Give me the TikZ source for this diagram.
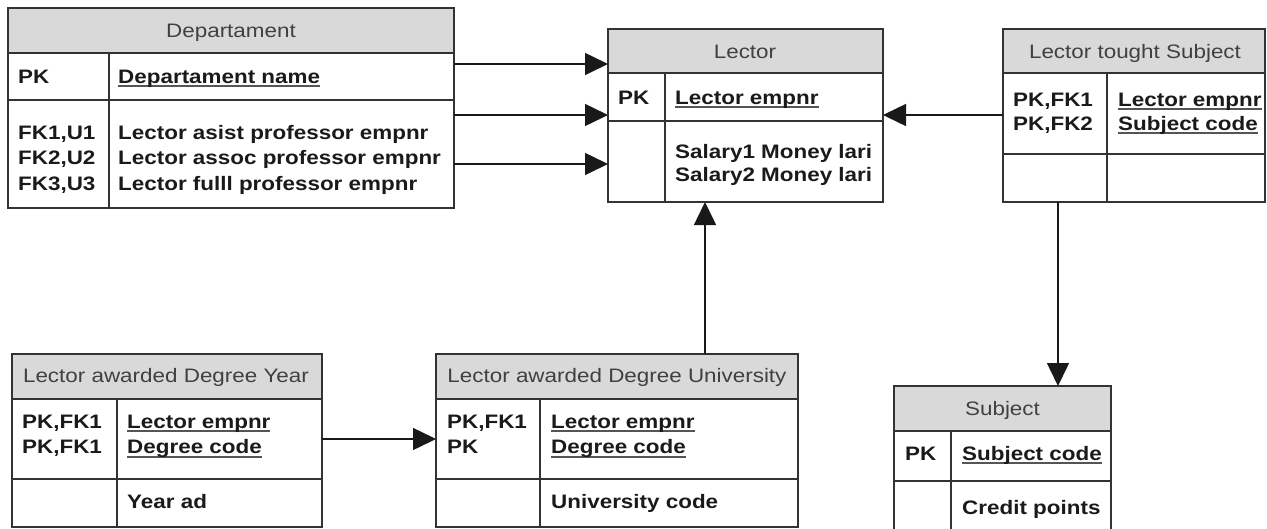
\documentclass[tikz,border=0pt]{standalone}
\usepackage{fontspec}
\setmainfont{Liberation Sans}[FakeStretch=1.15]
\usetikzlibrary{arrows.meta}

\definecolor{hdrfill}{HTML}{D9D9D9}
\definecolor{hdrtext}{HTML}{404040}
\definecolor{bodytext}{HTML}{1A1A1A}
\definecolor{edge}{HTML}{333333}
\definecolor{ulcol}{HTML}{555555}

\newcommand\erfont{\fontsize{19.5}{24}\selectfont}
% underlined primary-key attribute
\newcommand\keyattr[1]{\sbox0{#1}\rlap{\color{ulcol}\rule[-4.2pt]{\wd0}{2pt}}\usebox0}

\tikzset{
  entity/.style={draw=edge, line width=1.4pt, inner sep=0pt, outer sep=0pt, anchor=north west},
  hdr/.style={fill=hdrfill},
  sep/.style={draw=edge, line width=1.4pt},
  title/.style={anchor=base, inner sep=0pt, font=\erfont, text=hdrtext},
  attr/.style={anchor=base west, inner sep=0pt, font=\erfont\bfseries, text=bodytext},
  conn/.style={draw=black!90, line width=1.5pt, -{Triangle[length=23pt,width=22pt]}},
}

\begin{document}
\begin{tikzpicture}[x=1pt, y=-1pt]
\useasboundingbox (0,0) rectangle (1267,528);
\begin{scope}
\clip (0,0) rectangle (1267,528);

% ---------- Departament ----------
\fill[hdr] (8,8) rectangle (454,53);
\node[entity, minimum width=446pt, minimum height=200pt] (dep) at (8,8) {};
\draw[sep] (8,53) -- (454,53) (8,100) -- (454,100) (109,53) -- (109,208);
\node[title] (depT) at (231,37) {Departament};
\node[attr] (depK1) at (18,83) {PK};
\node[attr] (depA1) at (118,83) {\keyattr{Departament name}};
\node[attr] (depK2) at (18,139) {FK1,U1};
\node[attr] (depA2) at (118,139) {Lector asist professor empnr};
\node[attr] (depK3) at (18,164) {FK2,U2};
\node[attr] (depA3) at (118,164) {Lector assoc professor empnr};
\node[attr] (depK4) at (18,190) {FK3,U3};
\node[attr] (depA4) at (118,190) {Lector fulll professor empnr};

% ---------- Lector ----------
\fill[hdr] (608,29) rectangle (883,73);
\node[entity, minimum width=275pt, minimum height=173pt] (lec) at (608,29) {};
\draw[sep] (608,73) -- (883,73) (608,121) -- (883,121) (665,73) -- (665,202);
\node[title] (lecT) at (745,58.5) {Lector};
\node[attr] (lecK1) at (618,104) {PK};
\node[attr] (lecA1) at (675,104) {\keyattr{Lector empnr}};
\node[attr] (lecA2) at (675,158.5) {Salary1 Money lari};
\node[attr] (lecA3) at (675,181.5) {Salary2 Money lari};

% ---------- Lector tought Subject ----------
\fill[hdr] (1003,29) rectangle (1265,73);
\node[entity, minimum width=262pt, minimum height=173pt] (lts) at (1003,29) {};
\draw[sep] (1003,73) -- (1265,73) (1003,154) -- (1265,154) (1107,73) -- (1107,202);
\node[title] (ltsT) at (1135,58.5) {Lector tought Subject};
\node[attr] (ltsK1) at (1013,106) {PK,FK1};
\node[attr] (ltsA1) at (1118,106) {\keyattr{Lector empnr}};
\node[attr] (ltsK2) at (1013,130) {PK,FK2};
\node[attr] (ltsA2) at (1118,130) {\keyattr{Subject code}};

% ---------- Lector awarded Degree Year ----------
\fill[hdr] (12,354) rectangle (322,399);
\node[entity, minimum width=310pt, minimum height=173pt] (ady) at (12,354) {};
\draw[sep] (12,399) -- (322,399) (12,479) -- (322,479) (117,399) -- (117,527);
\node[title] (adyT) at (166,382.5) {Lector awarded Degree Year};
\node[attr] (adyK1) at (22,428) {PK,FK1};
\node[attr] (adyA1) at (127,428) {\keyattr{Lector empnr}};
\node[attr] (adyK2) at (22,453.5) {PK,FK1};
\node[attr] (adyA2) at (127,453.5) {\keyattr{Degree code}};
\node[attr] (adyA3) at (127,508.5) {Year ad};

% ---------- Lector awarded Degree University ----------
\fill[hdr] (436,354) rectangle (798,399);
\node[entity, minimum width=362pt, minimum height=173pt] (adu) at (436,354) {};
\draw[sep] (436,399) -- (798,399) (436,479) -- (798,479) (540,399) -- (540,527);
\node[title] (aduT) at (617,382.5) {Lector awarded Degree University};
\node[attr] (aduK1) at (447,428) {PK,FK1};
\node[attr] (aduA1) at (551,428) {\keyattr{Lector empnr}};
\node[attr] (aduK2) at (447,453.5) {PK};
\node[attr] (aduA2) at (551,453.5) {\keyattr{Degree code}};
\node[attr] (aduA3) at (551,508.5) {University code};

% ---------- Subject ----------
\fill[hdr] (894,386) rectangle (1111,431);
\node[entity, minimum width=217pt, minimum height=154pt] (subj) at (894,386) {};
\draw[sep] (894,431) -- (1111,431) (894,481) -- (1111,481) (951,431) -- (951,540);
\node[title] (subjT) at (1002.5,415) {Subject};
\node[attr] (subjK1) at (905,460) {PK};
\node[attr] (subjA1) at (962,460) {\keyattr{Subject code}};
\node[attr] (subjA2) at (962,514.5) {Credit points};
\end{scope}

% ---------- relationships ----------
\coordinate (dp1) at (dep.east |- 0,64);
\coordinate (dp2) at (dep.east |- 0,115);
\coordinate (dp3) at (dep.east |- 0,164);
\draw[conn] (dp1) -- (dp1 -| lec.west);
\draw[conn] (dp2) -- (dp2 -| lec.west);
\draw[conn] (dp3) -- (dp3 -| lec.west);

\coordinate (tp1) at (lts.west |- 0,115);
\draw[conn] (tp1) -- (tp1 -| lec.east);

\coordinate (tp2) at (lts.south -| 1058,0);
\draw[conn] (tp2) -- (tp2 |- subj.north);

\coordinate (up1) at (adu.north -| 705,0);
\draw[conn] (up1) -- (up1 |- lec.south);

\coordinate (yp1) at (ady.east |- 0,439);
\draw[conn] (yp1) -- (yp1 -| adu.west);
\end{tikzpicture}
\end{document}
